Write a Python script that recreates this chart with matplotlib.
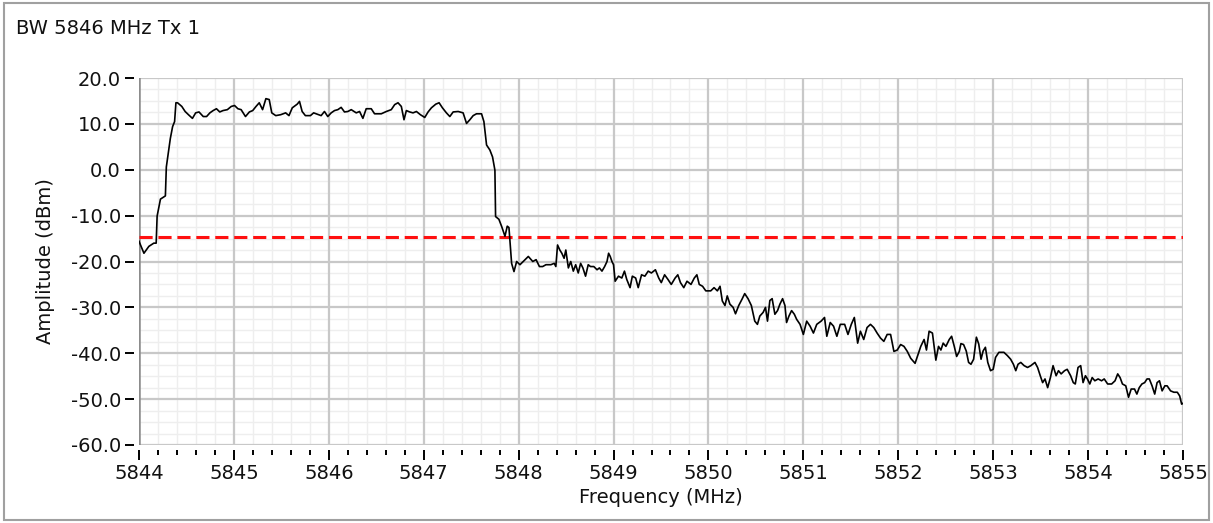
import matplotlib
matplotlib.use('Agg')
import matplotlib.pyplot as plt
from matplotlib.patches import Rectangle
from matplotlib.ticker import MultipleLocator

# Spectrum trace (MHz, dBm)
freq_mhz = [
    5844.000, 5844.052, 5844.104, 5844.156, 5844.181, 5844.191, 5844.226, 5844.278, 5844.288, 5844.313,
    5844.330, 5844.354, 5844.375, 5844.389, 5844.406, 5844.451, 5844.486, 5844.521, 5844.563, 5844.597,
    5844.632, 5844.677, 5844.712, 5844.747, 5844.781, 5844.816, 5844.851, 5844.885, 5844.931, 5844.972,
    5845.007, 5845.042, 5845.076, 5845.122, 5845.163, 5845.198, 5845.233, 5845.267, 5845.302, 5845.337,
    5845.372, 5845.399, 5845.441, 5845.493, 5845.545, 5845.580, 5845.615, 5845.667, 5845.691, 5845.719,
    5845.753, 5845.806, 5845.840, 5845.919, 5845.954, 5845.989, 5846.025, 5846.060, 5846.095, 5846.130,
    5846.165, 5846.201, 5846.236, 5846.289, 5846.324, 5846.359, 5846.394, 5846.447, 5846.482, 5846.553,
    5846.606, 5846.658, 5846.694, 5846.729, 5846.764, 5846.792, 5846.817, 5846.852, 5846.887, 5846.923,
    5846.965, 5847.011, 5847.046, 5847.081, 5847.127, 5847.162, 5847.197, 5847.239, 5847.275, 5847.310,
    5847.363, 5847.415, 5847.451, 5847.486, 5847.521, 5847.556, 5847.609, 5847.634, 5847.662, 5847.697,
    5847.725, 5847.750, 5847.757, 5847.792, 5847.820, 5847.856, 5847.880, 5847.898, 5847.926, 5847.951,
    5847.979, 5848.014, 5848.067, 5848.102, 5848.149, 5848.184, 5848.219, 5848.253, 5848.288, 5848.340,
    5848.375, 5848.392, 5848.410, 5848.434, 5848.455, 5848.479, 5848.497, 5848.524, 5848.549, 5848.576,
    5848.601, 5848.628, 5848.653, 5848.677, 5848.705, 5848.733, 5848.757, 5848.792, 5848.826, 5848.851,
    5848.878, 5848.906, 5848.931, 5848.948, 5848.965, 5848.983, 5849.000, 5849.017, 5849.052, 5849.087,
    5849.115, 5849.139, 5849.174, 5849.198, 5849.233, 5849.260, 5849.295, 5849.330, 5849.365, 5849.399,
    5849.441, 5849.476, 5849.503, 5849.538, 5849.573, 5849.608, 5849.649, 5849.677, 5849.705, 5849.740,
    5849.774, 5849.816, 5849.851, 5849.878, 5849.903, 5849.938, 5849.972, 5850.024, 5850.059, 5850.094,
    5850.122, 5850.146, 5850.174, 5850.198, 5850.226, 5850.260, 5850.285, 5850.319, 5850.354, 5850.382,
    5850.417, 5850.452, 5850.488, 5850.516, 5850.541, 5850.576, 5850.601, 5850.622, 5850.647, 5850.671,
    5850.700, 5850.728, 5850.753, 5850.781, 5850.806, 5850.823, 5850.848, 5850.876, 5850.905, 5850.929,
    5850.965, 5851.000, 5851.035, 5851.071, 5851.106, 5851.141, 5851.187, 5851.223, 5851.247, 5851.283,
    5851.318, 5851.353, 5851.389, 5851.435, 5851.470, 5851.505, 5851.537, 5851.572, 5851.601, 5851.636,
    5851.671, 5851.707, 5851.742, 5851.777, 5851.813, 5851.848, 5851.883, 5851.919, 5851.954, 5851.989,
    5852.025, 5852.060, 5852.095, 5852.131, 5852.177, 5852.212, 5852.237, 5852.272, 5852.297, 5852.325,
    5852.360, 5852.396, 5852.424, 5852.449, 5852.473, 5852.502, 5852.537, 5852.562, 5852.590, 5852.615,
    5852.643, 5852.660, 5852.688, 5852.716, 5852.741, 5852.766, 5852.794, 5852.823, 5852.848, 5852.872,
    5852.894, 5852.918, 5852.943, 5852.972, 5853.000, 5853.025, 5853.060, 5853.113, 5853.149, 5853.184,
    5853.213, 5853.238, 5853.262, 5853.291, 5853.326, 5853.362, 5853.397, 5853.440, 5853.468, 5853.496,
    5853.521, 5853.546, 5853.574, 5853.603, 5853.631, 5853.663, 5853.688, 5853.716, 5853.752, 5853.780,
    5853.816, 5853.844, 5853.865, 5853.894, 5853.922, 5853.947, 5853.972, 5853.993, 5854.018, 5854.043,
    5854.071, 5854.106, 5854.142, 5854.170, 5854.206, 5854.248, 5854.284, 5854.312, 5854.337, 5854.362,
    5854.397, 5854.426, 5854.454, 5854.489, 5854.514, 5854.539, 5854.567, 5854.596, 5854.621, 5854.645,
    5854.674, 5854.702, 5854.727, 5854.752, 5854.780, 5854.809, 5854.833, 5854.869, 5854.904, 5854.940,
    5854.965, 5854.986, 5855.000,
]
amp_dbm = [
    -15.6, -18.2, -16.7, -16.0, -16.0, -10.1, -6.4, -5.7, 0.6, 4.3,
    6.8, 9.4, 10.5, 14.6, 14.6, 13.8, 12.7, 12.0, 11.2, 12.4,
    12.6, 11.6, 11.6, 12.4, 12.9, 13.3, 12.6, 12.9, 13.1, 13.8,
    14.0, 13.3, 13.1, 11.6, 12.6, 12.9, 13.8, 14.6, 13.1, 15.5,
    15.3, 12.4, 11.8, 12.0, 12.4, 11.8, 13.5, 14.3, 14.9, 12.7,
    11.8, 11.8, 12.4, 11.8, 12.7, 11.6, 12.4, 12.9, 13.1, 13.6,
    12.6, 12.7, 13.1, 12.4, 12.7, 11.2, 13.3, 13.3, 12.2, 12.2,
    12.7, 13.1, 14.2, 14.6, 13.8, 10.9, 12.9, 12.6, 12.4, 12.7,
    12.0, 11.4, 12.6, 13.5, 14.3, 14.6, 13.5, 12.4, 11.6, 12.6,
    12.7, 12.4, 10.1, 10.9, 11.8, 12.2, 12.2, 10.5, 5.4, 4.3,
    2.8, -0.1, -10.2, -10.8, -12.3, -14.5, -12.3, -12.6, -20.4, -22.2,
    -20.0, -20.7, -19.6, -18.9, -20.0, -19.6, -21.1, -21.1, -20.7, -20.7,
    -20.4, -21.1, -16.4, -17.5, -18.2, -19.3, -17.5, -21.4, -20.0, -22.1,
    -20.7, -22.5, -20.4, -21.4, -23.2, -20.7, -21.1, -21.1, -21.8, -21.4,
    -22.1, -21.1, -20.0, -18.2, -18.9, -20.0, -20.7, -24.3, -23.2, -23.6,
    -22.1, -23.9, -25.7, -23.2, -23.6, -25.7, -22.9, -23.2, -22.1, -22.5,
    -21.8, -23.6, -24.6, -22.9, -23.9, -25.0, -23.6, -22.9, -24.6, -25.7,
    -24.3, -25.0, -23.6, -22.9, -25.0, -25.4, -26.4, -26.4, -25.7, -26.4,
    -25.4, -28.6, -29.6, -27.5, -29.3, -30.0, -31.4, -29.6, -28.2, -27.0,
    -28.1, -29.6, -33.0, -33.7, -31.9, -31.1, -30.0, -33.0, -28.5, -28.1,
    -31.5, -30.7, -29.3, -28.1, -29.6, -33.3, -31.9, -30.7, -31.5, -32.6,
    -33.7, -35.9, -33.0, -34.1, -35.6, -33.7, -33.0, -32.2, -36.3, -33.3,
    -34.1, -36.3, -33.7, -33.7, -35.9, -33.7, -32.2, -37.8, -35.2, -37.0,
    -34.4, -33.7, -34.4, -35.6, -36.7, -37.4, -35.9, -35.9, -39.6, -39.3,
    -38.1, -38.5, -39.6, -41.1, -42.2, -40.0, -38.5, -37.0, -39.3, -35.2,
    -35.6, -41.5, -38.5, -39.3, -37.8, -38.5, -37.0, -36.3, -38.5, -40.7,
    -39.6, -37.9, -38.1, -39.5, -42.0, -42.4, -41.3, -36.5, -38.0, -41.3,
    -39.5, -38.7, -42.0, -43.8, -43.5, -40.9, -39.8, -39.8, -40.5, -41.3,
    -42.4, -43.8, -42.4, -42.0, -42.7, -43.1, -42.7, -42.0, -43.1, -44.9,
    -46.4, -45.6, -47.5, -45.3, -42.7, -44.9, -43.8, -44.5, -43.8, -43.5,
    -44.9, -46.4, -46.7, -43.1, -42.7, -46.4, -44.9, -45.6, -46.7, -45.3,
    -46.0, -45.6, -46.0, -45.6, -46.7, -46.7, -46.0, -44.5, -45.3, -46.7,
    -47.1, -49.6, -47.8, -47.8, -48.9, -47.5, -46.7, -46.4, -45.6, -45.6,
    -47.1, -48.9, -46.4, -46.0, -48.2, -47.1, -47.1, -48.2, -48.5, -48.5,
    -49.3, -51.1, -50.9,
]

limit_dbm = -14.7
x_ticks = [5844, 5845, 5846, 5847, 5848, 5849, 5850, 5851, 5852, 5853, 5854, 5855]
y_ticks = [20, 10, 0, -10, -20, -30, -40, -50, -60]

plt.rcParams['font.family'] = 'DejaVu Sans'
FS = 14

W, H = 1213, 523
fig = plt.figure(figsize=(W / 100, H / 100), dpi=100)
fig.patch.set_facecolor('white')

# gray frame round the whole panel
fig.add_artist(Rectangle((4 / W, 3 / H), 1205 / W, 517 / H, transform=fig.transFigure,
                         fill=False, edgecolor='#a0a0a0', linewidth=1.5))

fig.text(16 / W, 1 - 28 / H, 'BW 5846 MHz Tx 1', ha='left', va='center',
         fontsize=FS, color='#111111')

left, right, top, bottom = 139, 1183, 78, 445
ax = fig.add_axes([left / W, 1 - bottom / H, (right - left) / W, (bottom - top) / H])

ax.plot(freq_mhz, amp_dbm, color='black', linewidth=1.2, zorder=4)
ax.axhline(limit_dbm, color='#ff1010', linewidth=2.2, dashes=(4.3, 1.9), zorder=3)

ax.set_xlim(5844, 5855)
ax.set_ylim(-60, 20)
ax.set_xticks(x_ticks)
ax.set_xticklabels([str(t) for t in x_ticks])
ax.set_yticks(y_ticks)
ax.set_yticklabels(['%.1f' % t for t in y_ticks])
ax.xaxis.set_minor_locator(MultipleLocator(0.2))
ax.yaxis.set_minor_locator(MultipleLocator(2.5))

# light minor grid from the axes, major lines drawn on top of it
ax.grid(which='minor', color='#eeeeee', linewidth=1.0)
ax.set_axisbelow(True)
for t in x_ticks:
    ax.axvline(t, color='#c8c8c8', linewidth=1.6, zorder=1)
for t in y_ticks:
    ax.axhline(t, color='#c8c8c8', linewidth=1.6, zorder=1)

for s in ['top', 'right', 'bottom', 'left']:
    ax.spines[s].set_visible(False)
# ticks sit a few pixels away from the plot area
ax.spines['bottom'].set_position(('outward', 3.5))
ax.spines['left'].set_position(('outward', 3.5))
ax.axvline(5844, color='#8c8c8c', linewidth=1.8, zorder=2)

ax.tick_params(axis='x', which='major', length=7, width=1.4, color='black',
               labelsize=FS, pad=3, labelcolor='#111111')
ax.tick_params(axis='x', which='minor', length=3.5, width=1.4, color='black')
ax.tick_params(axis='y', which='major', length=6.5, width=1.4, color='black',
               labelsize=FS, pad=3, labelcolor='#111111')
ax.tick_params(axis='y', which='minor', length=0)

ax.set_xlabel('Frequency (MHz)', fontsize=FS, color='#111111')
ax.xaxis.set_label_coords(0.5, -0.142)
ax.xaxis.label.set_va('center')
ax.set_ylabel('Amplitude (dBm)', fontsize=FS, color='#111111')
ax.yaxis.set_label_coords(-0.090, 0.5)
ax.yaxis.label.set_va('center')

plt.savefig('out.png', dpi=100)
plt.close(fig)
